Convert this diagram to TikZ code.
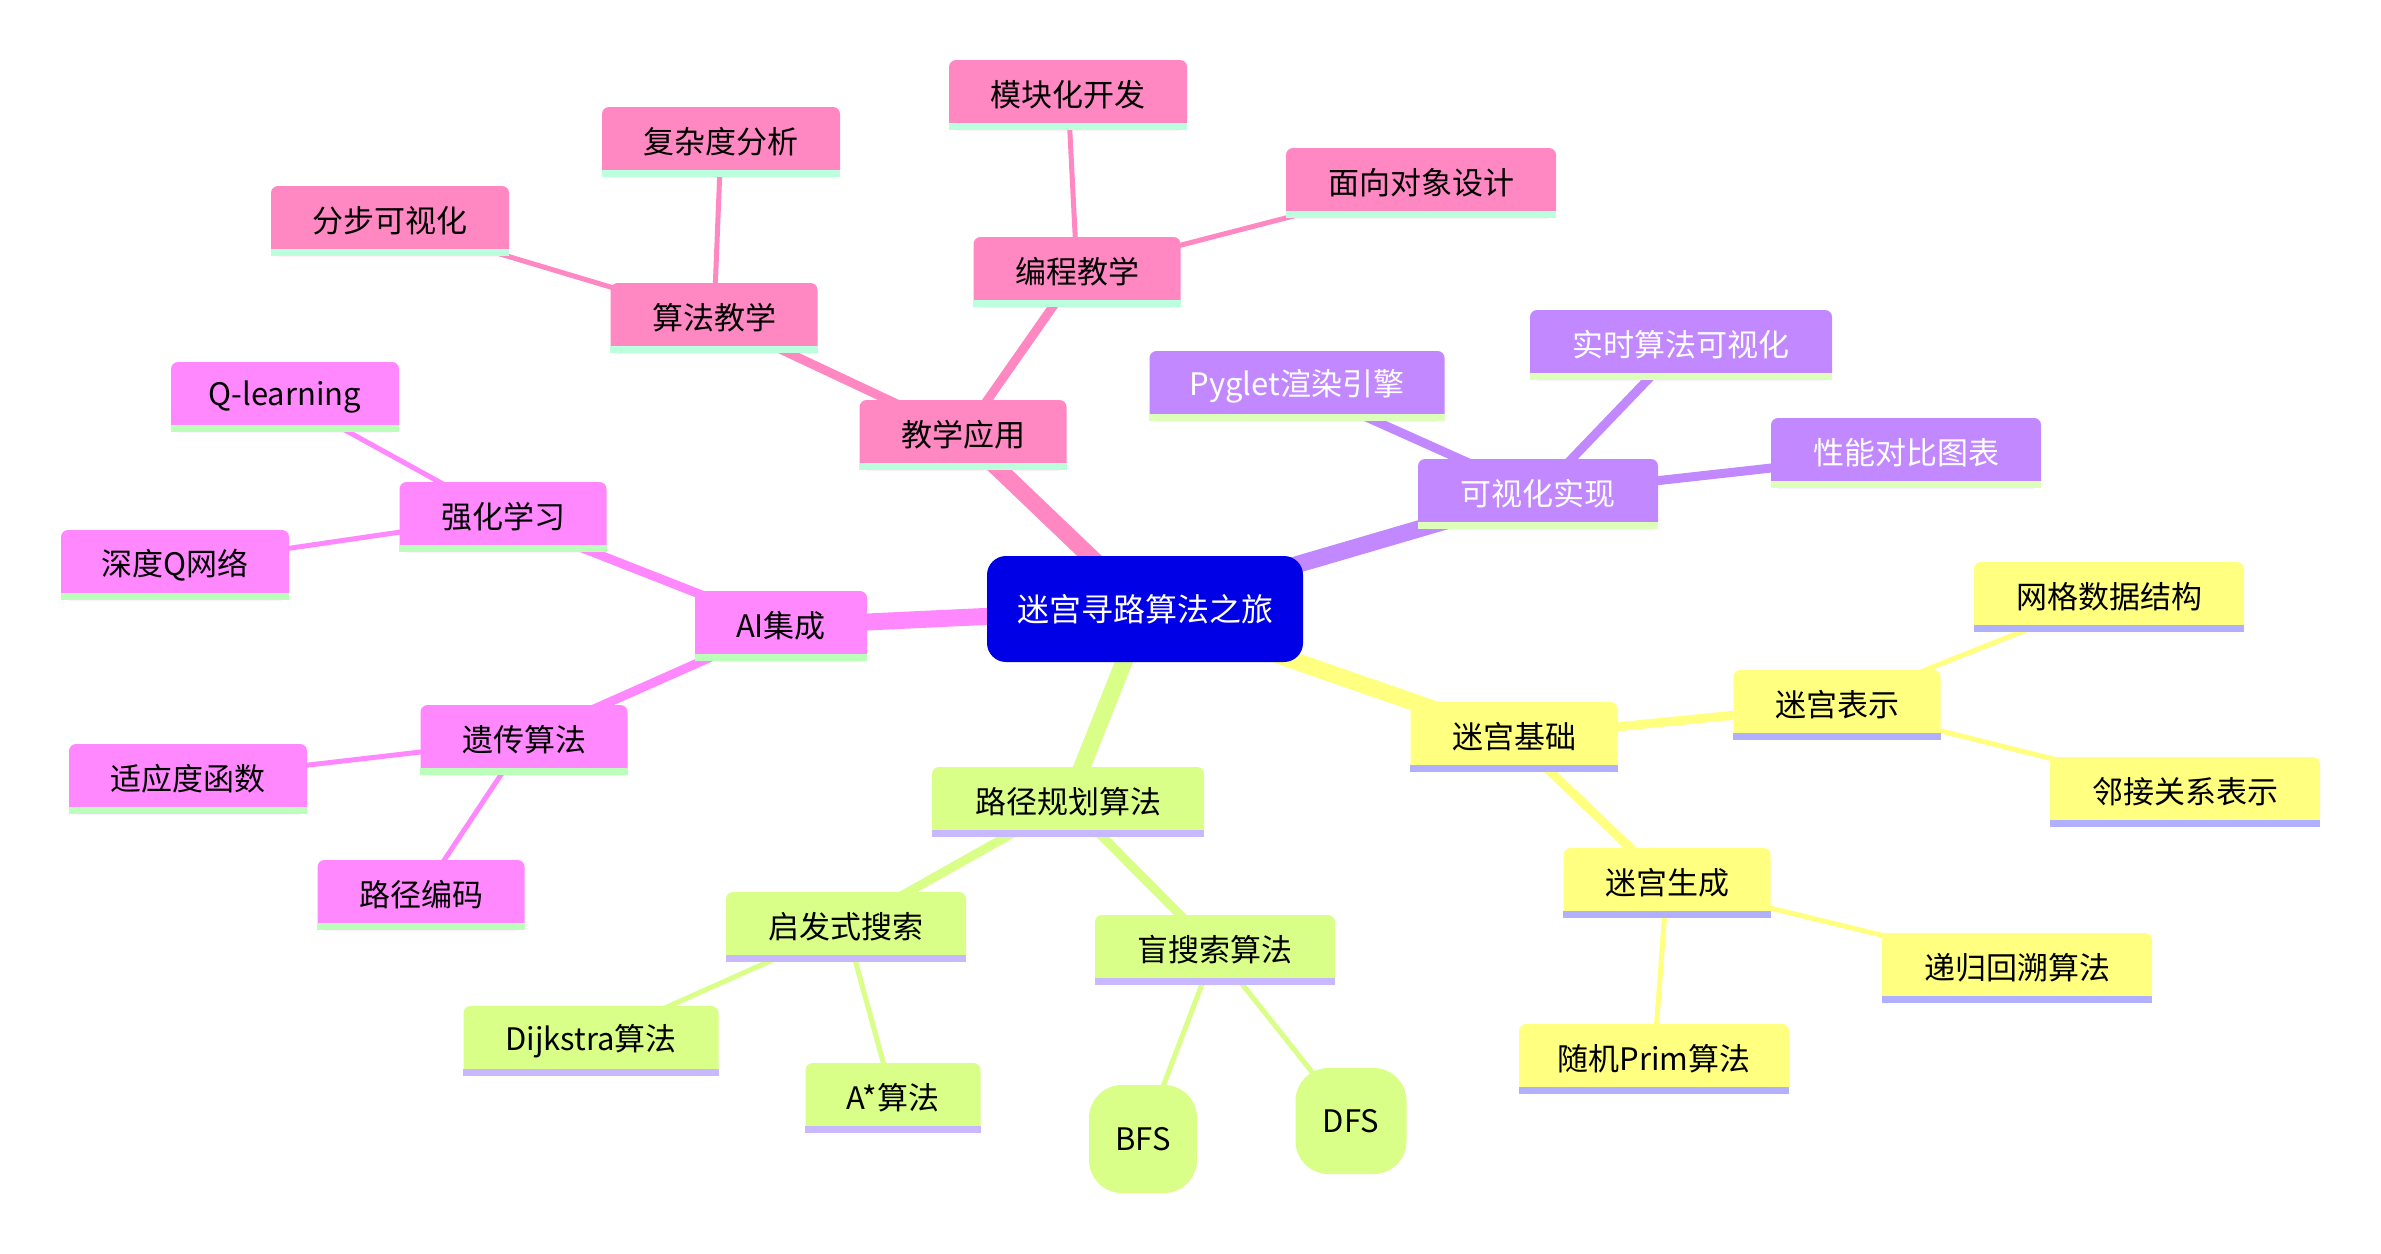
\documentclass[tikz,border=0pt]{standalone}
\usepackage{fontspec}
\newfontfamily\cjk{Noto Sans CJK SC}
\pgfdeclarelayer{background}
\pgfsetlayers{background,main}
\definecolor{rootC}{HTML}{0000E6}
\definecolor{pinkC}{HTML}{FF88C2}
\definecolor{pinkB}{HTML}{BBFFDD}
\definecolor{magC}{HTML}{FF88FF}
\definecolor{magB}{HTML}{BBFFBB}
\definecolor{grnC}{HTML}{D9FF88}
\definecolor{grnB}{HTML}{C8B8FF}
\definecolor{yelC}{HTML}{FFFF80}
\definecolor{yelB}{HTML}{B0B0FF}
\definecolor{purC}{HTML}{C288FF}
\definecolor{purB}{HTML}{DDFFBB}
\tikzset{
  mm/.style={rounded corners=7pt, minimum height=70pt, inner sep=0pt,
    font=\cjk\fontsize{31}{36}\selectfont},
  eA/.style={line width=17pt},
  eB/.style={line width=9pt},
  eC/.style={line width=5pt},
}
\newcommand\mmbox[8]{%
  \node[mm, minimum width=#4pt, fill=#5, text=#7] (#1) at (#2,#3) {\raisebox{3pt}{#8}};
  \fill[#6] (#1.south west) rectangle ([yshift=7pt]#1.south east);
}
\begin{document}
\begin{tikzpicture}[x=1pt,y=-1pt]
\useasboundingbox (0,0) rectangle (2381,1253);
\begin{scope}[yshift=-2pt]
% root
\node[rounded corners=19pt, fill=rootC, text=white, minimum width=316pt, minimum height=106pt,
  inner sep=0pt, font=\cjk\fontsize{32}{38}\selectfont] (root) at (1145,607) {迷宫寻路算法之旅};
% pink section
\mmbox{jx}{963}{433}{207}{pinkC}{pinkB}{black}{教学应用}
\mmbox{sfjx}{714}{316}{207}{pinkC}{pinkB}{black}{算法教学}
\mmbox{bcjx}{1077}{270}{207}{pinkC}{pinkB}{black}{编程教学}
\mmbox{fbksh}{390}{219}{238}{pinkC}{pinkB}{black}{分步可视化}
\mmbox{fzdfx}{721}{140}{238}{pinkC}{pinkB}{black}{复杂度分析}
\mmbox{mkhkf}{1068}{93}{238}{pinkC}{pinkB}{black}{模块化开发}
\mmbox{mxdx}{1421}{181}{270}{pinkC}{pinkB}{black}{面向对象设计}
% purple section
\mmbox{kshsx}{1538}{492}{240}{purC}{purB}{white}{可视化实现}
\mmbox{pyg}{1297}{384}{295}{purC}{purB}{white}{Pyglet渲染引擎}
\mmbox{sssf}{1681}{343}{302}{purC}{purB}{white}{实时算法可视化}
\mmbox{xndb}{1906}{451}{270}{purC}{purB}{white}{性能对比图表}
% magenta section
\mmbox{ai}{781}{624}{172}{magC}{magB}{black}{AI集成}
\mmbox{qhxx}{503}{515}{207}{magC}{magB}{black}{强化学习}
\mmbox{ql}{285}{395}{228}{magC}{magB}{black}{Q-learning}
\mmbox{sdq}{175}{563}{228}{magC}{magB}{black}{深度Q网络}
\mmbox{ycsf}{524}{738}{207}{magC}{magB}{black}{遗传算法}
\mmbox{sydhs}{188}{777}{238}{magC}{magB}{black}{适应度函数}
\mmbox{ljbm}{421}{893}{207}{magC}{magB}{black}{路径编码}
% green section
\mmbox{ljgh}{1068}{800}{272}{grnC}{grnB}{black}{路径规划算法}
\mmbox{qfs}{846}{925}{240}{grnC}{grnB}{black}{启发式搜索}
\mmbox{mss}{1215}{948}{240}{grnC}{grnB}{black}{盲搜索算法}
\mmbox{dij}{591}{1039}{255}{grnC}{grnB}{black}{Dijkstra算法}
\mmbox{astar}{893}{1096}{175}{grnC}{grnB}{black}{A*算法}
\node[rounded corners=33pt, fill=grnC, minimum width=108pt, minimum height=108pt, inner sep=0pt,
  font=\cjk\fontsize{31}{36}\selectfont] (bfs) at (1143,1137) {BFS};
\node[rounded corners=33pt, fill=grnC, minimum width=111pt, minimum height=106pt, inner sep=0pt,
  font=\cjk\fontsize{31}{36}\selectfont] (dfs) at (1351,1119) {DFS};
% yellow section
\mmbox{mgjc}{1514}{735}{207}{yelC}{yelB}{black}{迷宫基础}
\mmbox{mgbs}{1837}{703}{207}{yelC}{yelB}{black}{迷宫表示}
\mmbox{wgsj}{2109}{595}{270}{yelC}{yelB}{black}{网格数据结构}
\mmbox{ljgx}{2185}{790}{270}{yelC}{yelB}{black}{邻接关系表示}
\mmbox{mgsc}{1667}{881}{207}{yelC}{yelB}{black}{迷宫生成}
\mmbox{dghs}{2017}{966}{270}{yelC}{yelB}{black}{递归回溯算法}
\mmbox{sjprim}{1654}{1057}{270}{yelC}{yelB}{black}{随机Prim算法}
\end{scope}
\begin{pgfonlayer}{background}
\fill[white] (0,0) rectangle (2381,1253);
\draw[eA, pinkC] (root.center) -- (jx.center);
\draw[eA, purC] (root.center) -- (kshsx.center);
\draw[eA, magC] (root.center) -- (ai.center);
\draw[eA, grnC] (root.center) -- (ljgh.center);
\draw[eA, yelC] (root.center) -- (mgjc.center);
\draw[eB, pinkC] (jx.center) -- (sfjx.center);
\draw[eB, pinkC] (jx.center) -- (bcjx.center);
\draw[eB, purC] (kshsx.center) -- (pyg.center);
\draw[eB, purC] (kshsx.center) -- (sssf.center);
\draw[eB, purC] (kshsx.center) -- (xndb.center);
\draw[eB, magC] (ai.center) -- (qhxx.center);
\draw[eB, magC] (ai.center) -- (ycsf.center);
\draw[eB, grnC] (ljgh.center) -- (qfs.center);
\draw[eB, grnC] (ljgh.center) -- (mss.center);
\draw[eB, yelC] (mgjc.center) -- (mgbs.center);
\draw[eB, yelC] (mgjc.center) -- (mgsc.center);
\draw[eC, pinkC] (sfjx.center) -- (fbksh.center);
\draw[eC, pinkC] (sfjx.center) -- (fzdfx.center);
\draw[eC, pinkC] (bcjx.center) -- (mkhkf.center);
\draw[eC, pinkC] (bcjx.center) -- (mxdx.center);
\draw[eC, magC] (qhxx.center) -- (ql.center);
\draw[eC, magC] (qhxx.center) -- (sdq.center);
\draw[eC, magC] (ycsf.center) -- (sydhs.center);
\draw[eC, magC] (ycsf.center) -- (ljbm.center);
\draw[eC, grnC] (qfs.center) -- (dij.center);
\draw[eC, grnC] (qfs.center) -- (astar.center);
\draw[eC, grnC] (mss.center) -- (bfs.center);
\draw[eC, grnC] (mss.center) -- (dfs.center);
\draw[eC, yelC] (mgbs.center) -- (wgsj.center);
\draw[eC, yelC] (mgbs.center) -- (ljgx.center);
\draw[eC, yelC] (mgsc.center) -- (dghs.center);
\draw[eC, yelC] (mgsc.center) -- (sjprim.center);
\end{pgfonlayer}
\end{tikzpicture}
\end{document}
